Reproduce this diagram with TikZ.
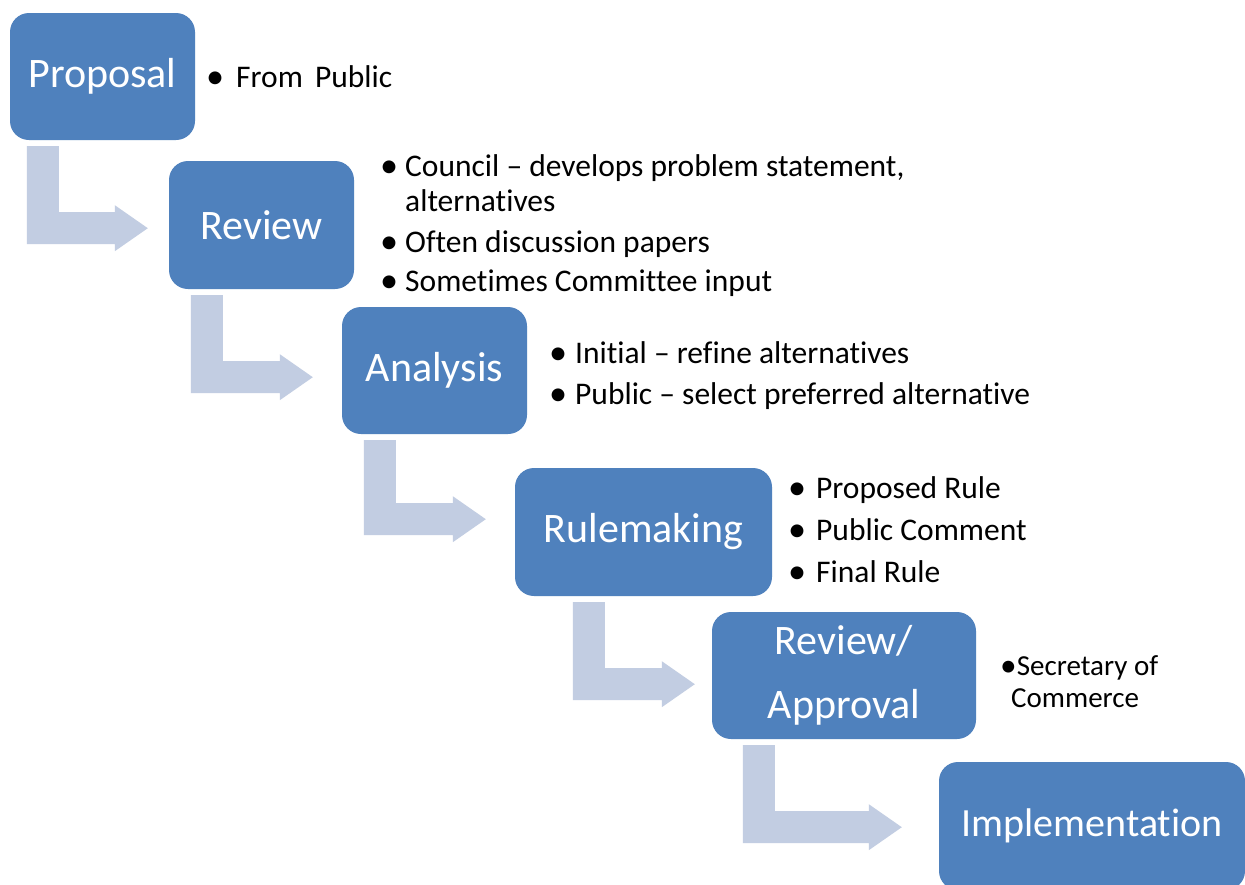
\documentclass[tikz,border=0pt]{standalone}
\usepackage{fontspec}
\setmainfont[Ligatures=NoCommon]{Carlito}
\usetikzlibrary{calc}

\definecolor{boxblue}{RGB}{79,129,189}
\definecolor{bendfill}{RGB}{194,205,226}

% a slightly larger bullet dot
\newcommand{\bigdot}{\raisebox{-1.5pt}{\scalebox{1.15}{\textbullet}}}
% hanging bullet placed left of the text start
\newcommand{\hangbullet}[1]{\llap{\bigdot\hspace{#1}}}

% L-shaped block arrow: #1 start (top-left corner), #2 drop to the bar, #3 bar length
\newcommand{\bendarrow}[3]{%
  \fill[bendshape] #1 -- ++(32,0) -- ++(0,#2) -- ++(#3,0) -- ++(0,-7)
    -- ++(33,23) -- ++(-33,23) -- ++(0,-7) -- ++({-(#3)-32},0) -- cycle;}

\begin{document}
\begin{tikzpicture}[x=1pt,y=-1pt,
  stage/.style={fill=boxblue, rounded corners=19pt, inner sep=0pt, text=white,
    font=\fontsize{42}{64}\selectfont, align=center},
  note/.style={anchor=base west, inner sep=0pt, font=\fontsize{31.5}{37}\selectfont},
  smallnote/.style={anchor=base west, inner sep=0pt, font=\fontsize{29}{32}\selectfont},
  bendshape/.style={fill=bendfill}]

\useasboundingbox[fill=white] (0,0) rectangle (1245,884);

% process stages
\node[stage, minimum width=185pt, minimum height=127pt] (prop) at (102.5,76.5) {Proposal};
\node[stage, minimum width=185pt, minimum height=128pt] (rev)  at (261.5,225) {Review};
\node[stage, minimum width=185pt, minimum height=127pt] (ana)  at (434.5,370.5) {Analysis};
\node[stage, minimum width=257pt, minimum height=128pt] (rule) at (643.5,532) {Rulemaking};
\node[stage, minimum width=264pt, minimum height=127pt] (appr) at (844,675.5) {Review/\\Approval};
\node[stage, minimum width=306pt, minimum height=128pt, font=\fontsize{40}{48}\selectfont] (impl) at (1092,826) {Implementation};

% bent arrows between consecutive stages
\bendarrow{($(prop.south west)+(17,6)$)}{66}{56}
\bendarrow{($(rev.south west)+(22,6)$)}{66}{57}
\bendarrow{($(ana.south west)+(22,6)$)}{63}{57}
\bendarrow{($(rule.south west)+(58,6)$)}{66}{57}
\bendarrow{($(appr.south west)+(31,6)$)}{66}{94}

% notes beside each stage
\node[note] (n1) at (236,87) {\hangbullet{12pt}From\hspace{5pt} Public};

\node[note] (n2a) at (405,176) {\hangbullet{7pt}Council – develops problem statement,};
\node[note] (n2b) at (405,211) {alternatives};
\node[note] (n2c) at (405,252) {\hangbullet{7pt}Often discussion papers};
\node[note] (n2d) at (405,291) {\hangbullet{7pt}Sometimes Committee input};

\node[note] (n3a) at (575,363) {\hangbullet{8pt}Initial – refine alternatives};
\node[note] (n3b) at (575,404) {\hangbullet{8pt}Public – select preferred alternative};

\node[note] (n4a) at (816,498) {\hangbullet{10pt}Proposed Rule};
\node[note] (n4b) at (816,540) {\hangbullet{10pt}Public Comment};
\node[note] (n4c) at (816,582) {\hangbullet{10pt}Final Rule};

\node[smallnote] (n5a) at (1000,675) {\bigdot Secretary of};
\node[smallnote] (n5b) at (1011,707) {Commerce};

\end{tikzpicture}
\end{document}
